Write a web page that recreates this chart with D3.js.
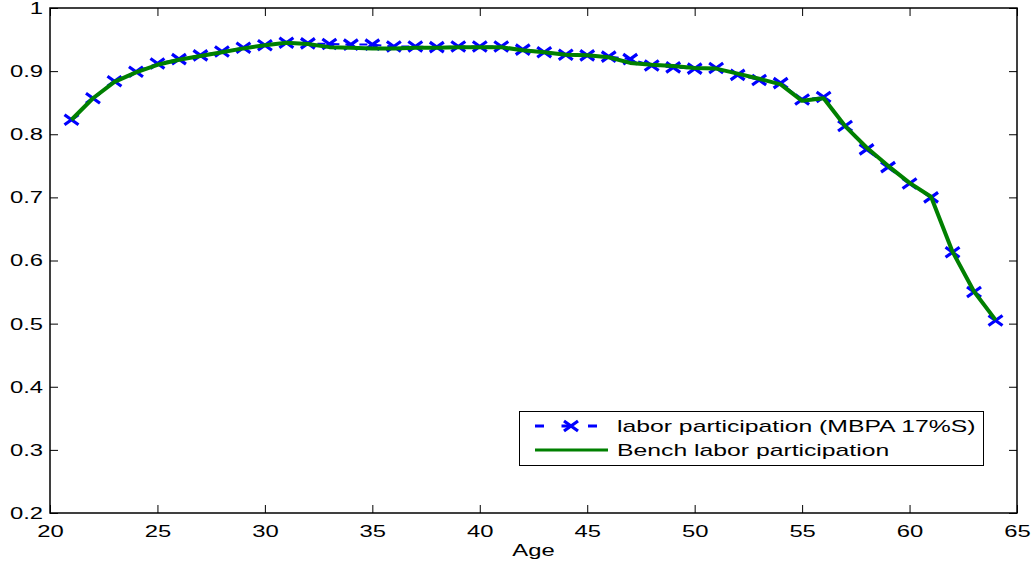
<!DOCTYPE html>
<html>
<head>
<meta charset="utf-8">
<script src="https://cdn.jsdelivr.net/npm/d3@7"></script>
<style>
  body { margin: 0; background: #fff; }
  svg text { font-family: "Liberation Sans", Arial, sans-serif; }
</style>
</head>
<body>
<div id="viz"></div>
<script>
const width = 1034;
const height = 565;
const margin = { top: 8, right: 17, bottom: 52, left: 50 };

// data
const ages = d3.range(21, 65);
const mbpa = [0.823, 0.857, 0.884, 0.899, 0.912, 0.919, 0.925, 0.931, 0.937, 0.941,
              0.945, 0.944, 0.943, 0.942, 0.942, 0.939, 0.939, 0.938, 0.939, 0.939,
              0.939, 0.934, 0.930, 0.926, 0.925, 0.923, 0.919, 0.909, 0.906, 0.904,
              0.905, 0.894, 0.886, 0.881, 0.855, 0.859, 0.813, 0.776, 0.748, 0.722,
              0.700, 0.613, 0.550, 0.505];
const bench = [0.823, 0.857, 0.883, 0.898, 0.910, 0.918, 0.924, 0.930, 0.936, 0.941,
               0.945, 0.943, 0.938, 0.937, 0.936, 0.936, 0.937, 0.937, 0.938, 0.938,
               0.938, 0.933, 0.930, 0.926, 0.925, 0.922, 0.913, 0.910, 0.908, 0.905,
               0.904, 0.896, 0.888, 0.879, 0.853, 0.857, 0.813, 0.779, 0.750, 0.723,
               0.701, 0.614, 0.551, 0.506];
const xTicks = [20, 25, 30, 35, 40, 45, 50, 55, 60, 65];
const yTicks = [0.2, 0.3, 0.4, 0.5, 0.6, 0.7, 0.8, 0.9, 1];
const seriesNames = ['labor participation (MBPA 17%S)', 'Bench labor participation'];

const blue = '#0000ff';
const green = '#008000';
const stretch = 1.4; // the original figure text is wide

const x = d3.scaleLinear().domain([20, 65]).range([margin.left, width - margin.right]);
const y = d3.scaleLinear().domain([0.2, 1]).range([height - margin.bottom, margin.top]);

const svg = d3.select('#viz').append('svg')
    .attr('width', width)
    .attr('height', height);

const tickLen = 8;
const fmtY = d => d === 1 ? '1' : d.toFixed(1);

// axes, MATLAB style ticks pointing inward on all sides
svg.append('g')
    .attr('transform', `translate(0,${height - margin.bottom})`)
    .call(d3.axisBottom(x).tickValues(xTicks).tickSize(-tickLen).tickPadding(12).tickFormat(d3.format('d')));
svg.append('g')
    .attr('transform', `translate(0,${margin.top})`)
    .call(d3.axisTop(x).tickValues(xTicks).tickSize(-tickLen).tickFormat(''));
svg.append('g')
    .attr('transform', `translate(${margin.left},0)`)
    .call(d3.axisLeft(y).tickValues(yTicks).tickSize(-tickLen).tickPadding(7).tickFormat(fmtY));
svg.append('g')
    .attr('transform', `translate(${width - margin.right},0)`)
    .call(d3.axisRight(y).tickValues(yTicks).tickSize(-tickLen).tickFormat(''));

svg.selectAll('.domain').remove();
svg.selectAll('.tick line').attr('stroke', '#000').attr('stroke-width', 1);
svg.selectAll('.tick text').attr('font-size', 17).attr('fill', '#000');

svg.append('rect')
    .attr('x', margin.left).attr('y', margin.top)
    .attr('width', width - margin.left - margin.right)
    .attr('height', height - margin.top - margin.bottom)
    .attr('fill', 'none').attr('stroke', '#000').attr('stroke-width', 1.5);

svg.append('text')
    .attr('x', (margin.left + width - margin.right) / 2)
    .attr('y', 556)
    .attr('text-anchor', 'middle')
    .attr('font-size', 17)
    .text('Age');

const line = d3.line().x((d, i) => x(ages[i])).y(d => y(d));

function cross(g, cx, cy) {
    g.append('path')
        .attr('d', `M${cx - 7},${cy - 5}L${cx + 7},${cy + 5}M${cx - 7},${cy + 5}L${cx + 7},${cy - 5}`)
        .attr('stroke', blue).attr('stroke-width', 3.2).attr('fill', 'none');
}

// MBPA series: dashed blue with x markers
svg.append('path')
    .datum(mbpa)
    .attr('d', line)
    .attr('fill', 'none').attr('stroke', blue).attr('stroke-width', 2)
    .attr('stroke-dasharray', '8,6');
const marks = svg.append('g');
mbpa.forEach((v, i) => cross(marks, x(ages[i]), y(v)));

// bench series: solid green
svg.append('path')
    .datum(bench)
    .attr('d', line)
    .attr('fill', 'none').attr('stroke', green).attr('stroke-width', 4)
    .attr('stroke-linejoin', 'round');

// legend
const leg = svg.append('g');
leg.append('rect')
    .attr('x', 519.5).attr('y', 411.5).attr('width', 464).attr('height', 54)
    .attr('fill', '#fff').attr('stroke', '#000').attr('stroke-width', 1);
leg.append('line')
    .attr('x1', 535).attr('x2', 608).attr('y1', 426).attr('y2', 426)
    .attr('stroke', blue).attr('stroke-width', 3).attr('stroke-dasharray', '9,17.5');
cross(leg, 571, 426);
leg.append('line')
    .attr('x1', 535).attr('x2', 608).attr('y1', 450).attr('y2', 450)
    .attr('stroke', green).attr('stroke-width', 3);
leg.selectAll('text.lbl')
    .data(seriesNames)
    .join('text')
    .attr('class', 'lbl')
    .attr('x', 617)
    .attr('y', (d, i) => 432 + i * 24)
    .attr('font-size', 17)
    .text(d => d);

// widen every label to match the original's wide lettering
svg.selectAll('text').each(function() {
    const len = this.getComputedTextLength();
    const k = this.classList.contains('lbl') ? 1.455 : stretch;
    if (len > 0) {
        d3.select(this)
            .attr('textLength', len * k)
            .attr('lengthAdjust', 'spacingAndGlyphs');
    }
});
</script>
</body>
</html>
